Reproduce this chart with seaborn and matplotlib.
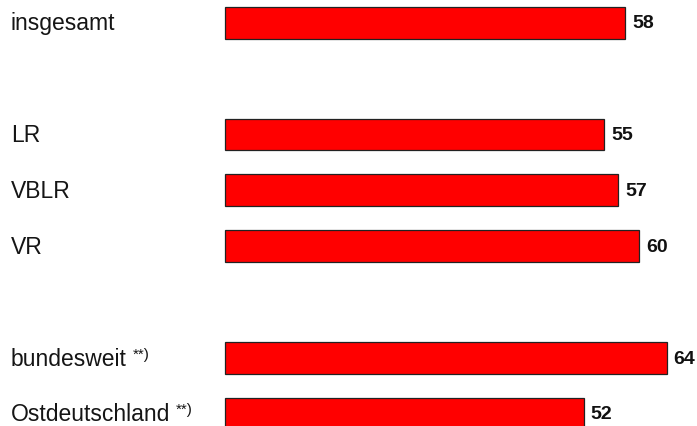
import matplotlib
matplotlib.use("Agg")

import pandas as pd
import matplotlib.pyplot as plt
import matplotlib.transforms as mtransforms
import seaborn as sns

# rows, with blank placeholders for the gaps between groups
categories = ["insgesamt", " ", "LR", "VBLR", "VR", "  ", "bundesweit", "Ostdeutschland"]
labels = ["insgesamt", "", "LR", "VBLR", "VR", "", "bundesweit", "Ostdeutschland"]
footnotes = ["", "", "", "", "", "", "**)", "**)"]
values = [58, None, 55, 57, 60, None, 64, 52]

sns.set_theme(style="white")
plt.rcParams["font.family"] = ["Liberation Sans", "DejaVu Sans"]

df = pd.DataFrame({"cat": categories, "val": values}).dropna()

fig = plt.figure(figsize=(6.97, 4.27), dpi=100)
ax = fig.add_axes([0, 0, 1, 1])

sns.barplot(data=df, x="val", y="cat", order=categories, orient="h",
            color="#FF0000", saturation=1, width=0.57,
            edgecolor="#222222", linewidth=0.9, ax=ax)

ax.set_xlim(-32.5, 68.4)
ax.set_ylim(7.215, -0.424)
ax.axis("off")

for cont in ax.containers:
    ax.bar_label(cont, fmt="%d", padding=5, fontsize=14, fontweight="bold",
                 color="#111111")

trans = mtransforms.blended_transform_factory(ax.transAxes, ax.transData)
for i, (lab, fn) in enumerate(zip(labels, footnotes)):
    if not lab:
        continue
    t = ax.text(11 / 697, i, lab, transform=trans,
                ha="left", va="center", fontsize=16.5, color="#151515")
    if fn:
        ax.annotate(fn, xy=(1, 1), xycoords=t, xytext=(4, 0),
                    textcoords="offset points", ha="left", va="top",
                    fontsize=11, color="#151515")

fig.savefig("out.png", dpi=100)
